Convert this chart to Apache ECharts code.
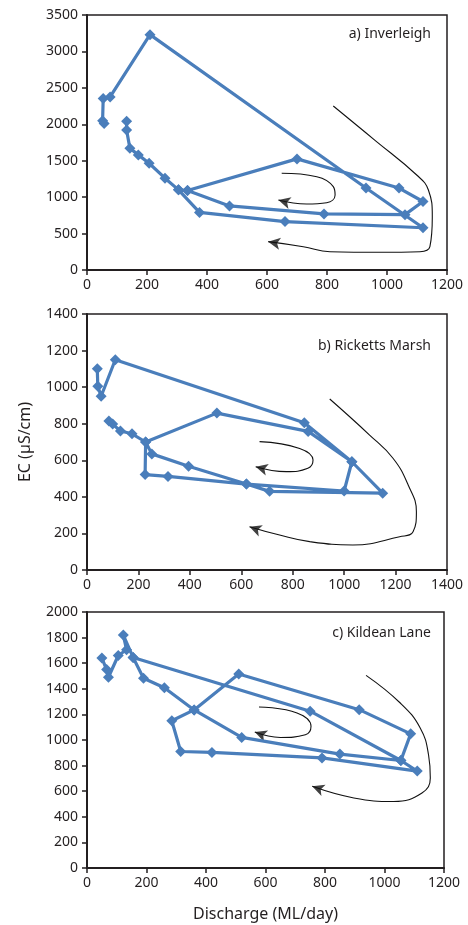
<!DOCTYPE html>
<html><head><meta charset="utf-8">
<script src="https://cdn.jsdelivr.net/npm/echarts@6/dist/echarts.min.js"></script>
<style>html,body{margin:0;padding:0;background:#fff}#c{width:468px;height:925px}</style>
</head><body><div id="c"></div>
<script>
// ---- data (discharge ML/day, EC µS/cm) ----
const inverleighQ  = [57, 52, 54, 77, 210, 930, 1120, 660, 375, 305, 335, 700, 1040, 1120, 1060, 790, 475, 335, 305, 260, 207, 171, 143, 132, 132];
const inverleighEC = [2010, 2050, 2355, 2375, 3230, 1125, 580, 665, 790, 1100, 1090, 1525, 1125, 940, 760, 770, 880, 1090, 1100, 1260, 1465, 1580, 1670, 1920, 2040];

const rickettsQ  = [40, 42, 55, 110, 845, 1030, 1150, 710, 620, 395, 252, 228, 505, 860, 1030, 1000, 620, 315, 226, 228, 175, 130, 100, 85];
const rickettsEC = [1100, 1005, 950, 1150, 805, 592, 420, 430, 470, 567, 635, 700, 858, 758, 592, 432, 470, 512, 522, 700, 745, 760, 798, 815];

const kildeanQ  = [50, 66, 72, 105, 133, 122, 155, 750, 1055, 1110, 790, 420, 315, 285, 360, 510, 915, 1088, 1055, 850, 520, 360, 260, 190, 155];
const kildeanEC = [1640, 1550, 1490, 1660, 1705, 1820, 1645, 1225, 840, 757, 860, 903, 910, 1150, 1235, 1515, 1237, 1048, 840, 890, 1020, 1235, 1408, 1483, 1645];

// axis ticks
const xTicksA = {min: 0, max: 1200, step: 200};
const yTicksA = {min: 0, max: 3500, step: 500};
const xTicksB = {min: 0, max: 1400, step: 200};
const yTicksB = {min: 0, max: 1400, step: 200};
const xTicksC = {min: 0, max: 1200, step: 200};
const yTicksC = {min: 0, max: 2000, step: 200};

// annotation arrows (data units)
const arrowOuterA = [[821,2251],[960,1780],[1099,1304],[1138,1098],[1151,732],[1143,320],[1110,251],[977,243],[810,251],[721,320],[604,389]];
const arrowInnerA = [[649,1327],[766,1281],[821,1144],[827,1029],[799,924],[732,906],[638,961]];
const arrowOuterB = [[944,935],[1099,738],[1190,611],[1249,465],[1281,319],[1268,209],[1216,182],[1034,137],[866,155],[749,191],[632,237]];
const arrowInnerB = [[671,702],[827,665],[879,601],[859,556],[775,538],[656,565]];
const arrowOuterC = [[938,1505],[1053,1289],[1120,1094],[1148,885],[1154,703],[1126,586],[1031,520],[897,547],[757,638]];
const arrowInnerC = [[578,1258],[706,1211],[753,1107],[734,1041],[650,1020],[564,1062]];

const panelTitles = ['a) Inverleigh', 'b) Ricketts Marsh', 'c) Kildean Lane'];
const yTitle = 'EC (µS/cm)';
const xTitle = 'Discharge (ML/day)';

// ---- chart ----
const FONT = 'Noto Sans';
const INK = '#231f20';
const BLUE = '#4a7ebb';
const zip = (a, b) => a.map((v, i) => [v, b[i]]);

const grids = [
  {left: 87, right: 21, top: 15, height: 255},
  {left: 87, right: 21, top: 314, height: 256},
  {left: 87, right: 24, top: 612, height: 256}
].map(g => Object.assign(g, {show: true, borderColor: INK, borderWidth: 1.5, backgroundColor: 'transparent'}));

function xAx(i, t, name) {
  return {
    type: 'value', gridIndex: i, min: t.min, max: t.max, interval: t.step,
    splitLine: {show: false},
    axisLine: {show: true, onZero: false, lineStyle: {color: INK, width: 2}},
    axisTick: {show: true, length: 5, lineStyle: {color: INK, width: 1.5}},
    axisLabel: {color: INK, fontFamily: FONT, fontSize: 14, margin: 8, formatter: v => String(v)},
    name: name || '', nameLocation: 'middle', nameGap: 38,
    nameTextStyle: {color: INK, fontFamily: FONT, fontSize: 16}
  };
}
function yAx(i, t, name) {
  return {
    type: 'value', gridIndex: i, min: t.min, max: t.max, interval: t.step,
    splitLine: {show: false},
    axisLine: {show: true, onZero: false, lineStyle: {color: INK, width: 2}},
    axisTick: {show: true, length: 5, lineStyle: {color: INK, width: 1.5}},
    axisLabel: {color: INK, fontFamily: FONT, fontSize: 14, margin: 9, formatter: v => String(v)},
    name: name || '', nameLocation: 'middle', nameGap: 54, nameRotate: 90,
    nameTextStyle: {color: INK, fontFamily: FONT, fontSize: 16}
  };
}

function dataSeries(i, q, ec) {
  return {
    type: 'line', xAxisIndex: i, yAxisIndex: i, data: zip(q, ec),
    symbol: 'diamond', symbolSize: 11, showSymbol: true,
    lineStyle: {color: BLUE, width: 3.2}, itemStyle: {color: BLUE},
    z: 3, silent: true
  };
}
function curve(i, pts) {
  return {
    type: 'line', xAxisIndex: i, yAxisIndex: i, data: pts, smooth: 0.45,
    symbol: 'none', lineStyle: {color: '#111', width: 1.1}, z: 2, silent: true
  };
}
function head(i, pts, rot) {
  return {
    type: 'scatter', xAxisIndex: i, yAxisIndex: i, data: [pts[pts.length - 1]],
    symbol: 'arrow', symbolSize: [9, 12], symbolRotate: rot,
    itemStyle: {color: '#111'}, z: 2, silent: true
  };
}

const option = {
  animation: false,
  grid: grids,
  xAxis: [xAx(0, xTicksA), xAx(1, xTicksB), xAx(2, xTicksC, xTitle)],
  yAxis: [yAx(0, yTicksA), yAx(1, yTicksB, yTitle), yAx(2, yTicksC)],
  series: [
    curve(0, arrowOuterA), head(0, arrowOuterA, 80), curve(0, arrowInnerA), head(0, arrowInnerA, 75),
    curve(1, arrowOuterB), head(1, arrowOuterB, 70), curve(1, arrowInnerB), head(1, arrowInnerB, 75),
    curve(2, arrowOuterC), head(2, arrowOuterC, 70), curve(2, arrowInnerC), head(2, arrowInnerC, 70),
    dataSeries(0, inverleighQ, inverleighEC),
    dataSeries(1, rickettsQ, rickettsEC),
    dataSeries(2, kildeanQ, kildeanEC)
  ],
  graphic: [
    {type: 'text', x: 431, y: 34, style: {text: panelTitles[0], textAlign: 'right', textVerticalAlign: 'middle', font: '14px "Noto Sans"', fill: INK}},
    {type: 'text', x: 431, y: 346, style: {text: panelTitles[1], textAlign: 'right', textVerticalAlign: 'middle', font: '14px "Noto Sans"', fill: INK}},
    {type: 'text', x: 431, y: 633, style: {text: panelTitles[2], textAlign: 'right', textVerticalAlign: 'middle', font: '14px "Noto Sans"', fill: INK}}
  ]
};
const chart = echarts.init(document.getElementById('c'), null, {renderer: 'canvas'});
chart.setOption(option);
</script></body></html>
